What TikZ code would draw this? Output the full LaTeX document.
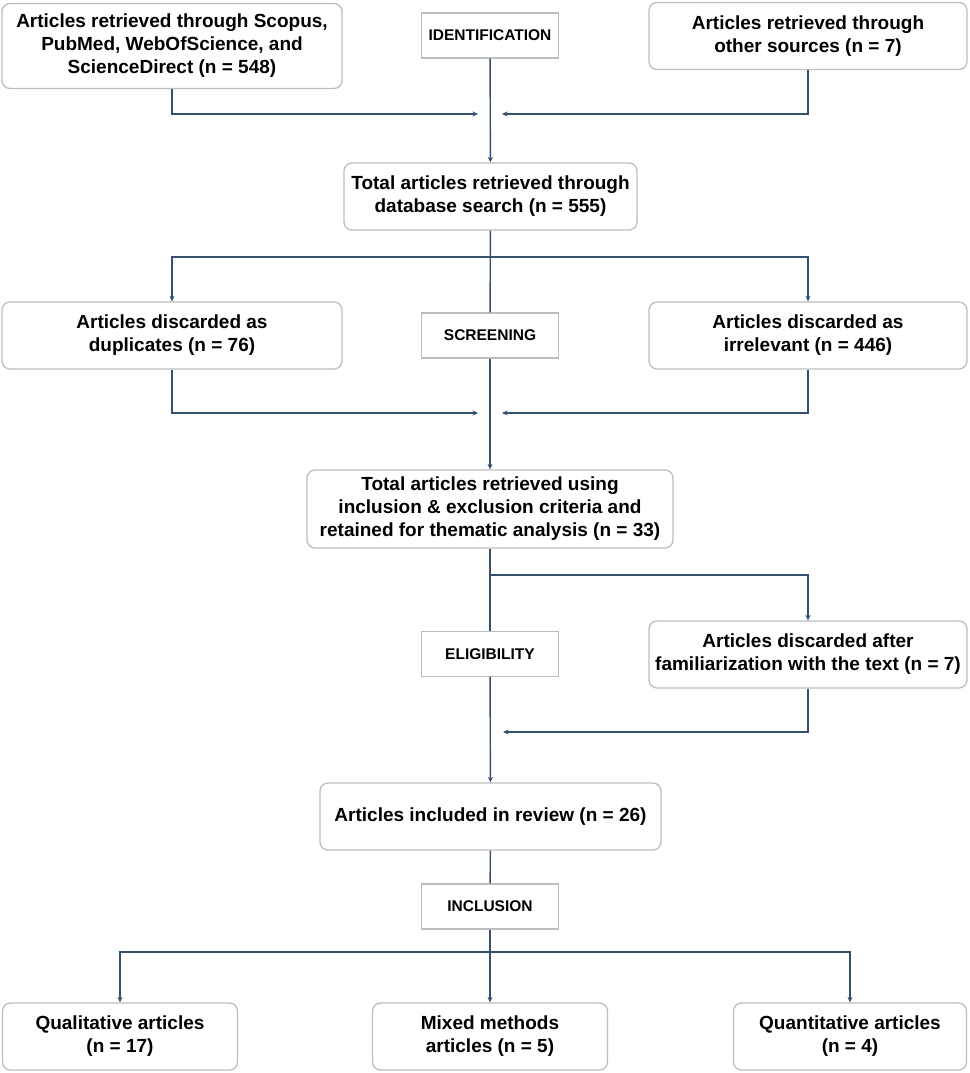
\documentclass[tikz,border=0pt]{standalone}
\usepackage{fontspec}
\setmainfont{Liberation Sans}
\usepackage{tikz}
\usetikzlibrary{arrows.meta,positioning,calc}
\usepackage{xcolor}
\definecolor{linkcol}{HTML}{34506E}
\definecolor{boxcol}{HTML}{BDBDBD}

\begin{document}
\begin{tikzpicture}[x=1pt,y=-1pt,
    box/.style={draw=boxcol, line width=1.3pt, rounded corners=8pt, fill=white, align=center,
                font=\fontsize{19}{23}\selectfont\bfseries, inner sep=0pt},
    stage/.style={draw=boxcol, line width=1.2pt, fill=white, minimum width=137pt, minimum height=45pt,
                  font=\fontsize{15.5}{18}\selectfont\bfseries, inner sep=0pt},
    link/.style={draw=linkcol, line width=1.4pt},
    arr/.style={link, -{Stealth[length=5.5pt,width=5pt]}}]
    \useasboundingbox (0,0) rectangle (969,1073);

    % identification
    \node[box, minimum width=340pt, minimum height=85pt] (src1) at (172,46) {Articles retrieved through Scopus,\\PubMed, WebOfScience, and\\ScienceDirect (n = 548)};
    \node[stage] (idlab) at (490,35.5) {IDENTIFICATION};
    \node[box, minimum width=318pt, minimum height=67pt] (src2) at (808,36) {Articles retrieved through\\other sources (n = 7)};
    \node[box, minimum width=293pt, minimum height=67pt] (total) at (490.5,196.5) {Total articles retrieved through\\database search (n = 555)};

    % screening
    \node[box, minimum width=340pt, minimum height=67pt] (dup) at (172,335.5) {Articles discarded as\\duplicates (n = 76)};
    \node[stage] (scrlab) at (490,335.5) {SCREENING};
    \node[box, minimum width=318pt, minimum height=67pt] (irr) at (808,335.5) {Articles discarded as\\irrelevant (n = 446)};
    \node[box, minimum width=366pt, minimum height=78pt] (ret) at (490,509) {Total articles retrieved using\\inclusion \& exclusion criteria and\\retained for thematic analysis (n = 33)};

    % eligibility
    \node[stage] (elilab) at (490,654) {ELIGIBILITY};
    \node[box, minimum width=318pt, minimum height=67pt] (fam) at (808,654.5) {Articles discarded after\\familiarization with the text (n = 7)};
    \node[box, minimum width=341pt, minimum height=67pt] (incl) at (490.5,816.5) {Articles included in review (n = 26)};

    % inclusion
    \node[stage] (inclab) at (490,906.5) {INCLUSION};
    \node[box, minimum width=235pt, minimum height=67pt] (qual) at (120,1036.5) {Qualitative articles\\(n = 17)};
    \node[box, minimum width=235pt, minimum height=67pt] (mix) at (490,1036.5) {Mixed methods\\articles (n = 5)};
    \node[box, minimum width=233pt, minimum height=67pt] (quan) at (850,1036.5) {Quantitative articles\\(n = 4)};

    \coordinate (m1l) at (478,114);
    \coordinate (m1r) at (502,114);
    \coordinate (b1) at (490,257);
    \coordinate (m2l) at (478,413);
    \coordinate (m2r) at (502,413);
    \coordinate (b2) at (490,575);
    \coordinate (m3r) at (503,732);
    \coordinate (b3) at (490,952);

    \draw[arr] (idlab) -- (total);
    \draw[arr] (src1.south) |- (m1l);
    \draw[arr] (src2.south) |- (m1r);

    \draw[link] (total) -- (scrlab);
    \draw[arr] (b1) -| (dup.north);
    \draw[arr] (b1) -| (irr.north);
    \draw[arr] (scrlab) -- (ret);
    \draw[arr] (dup.south) |- (m2l);
    \draw[arr] (irr.south) |- (m2r);

    \draw[link] (ret) -- (elilab);
    \draw[arr] (b2) -| (fam.north);
    \draw[arr] (elilab) -- (incl);
    \draw[arr] (fam.south) |- (m3r);

    \draw[link] (incl) -- (inclab);
    \draw[arr] (inclab) -- (mix);
    \draw[arr] (b3) -| (qual.north);
    \draw[arr] (b3) -| (quan.north);
\end{tikzpicture}
\end{document}
